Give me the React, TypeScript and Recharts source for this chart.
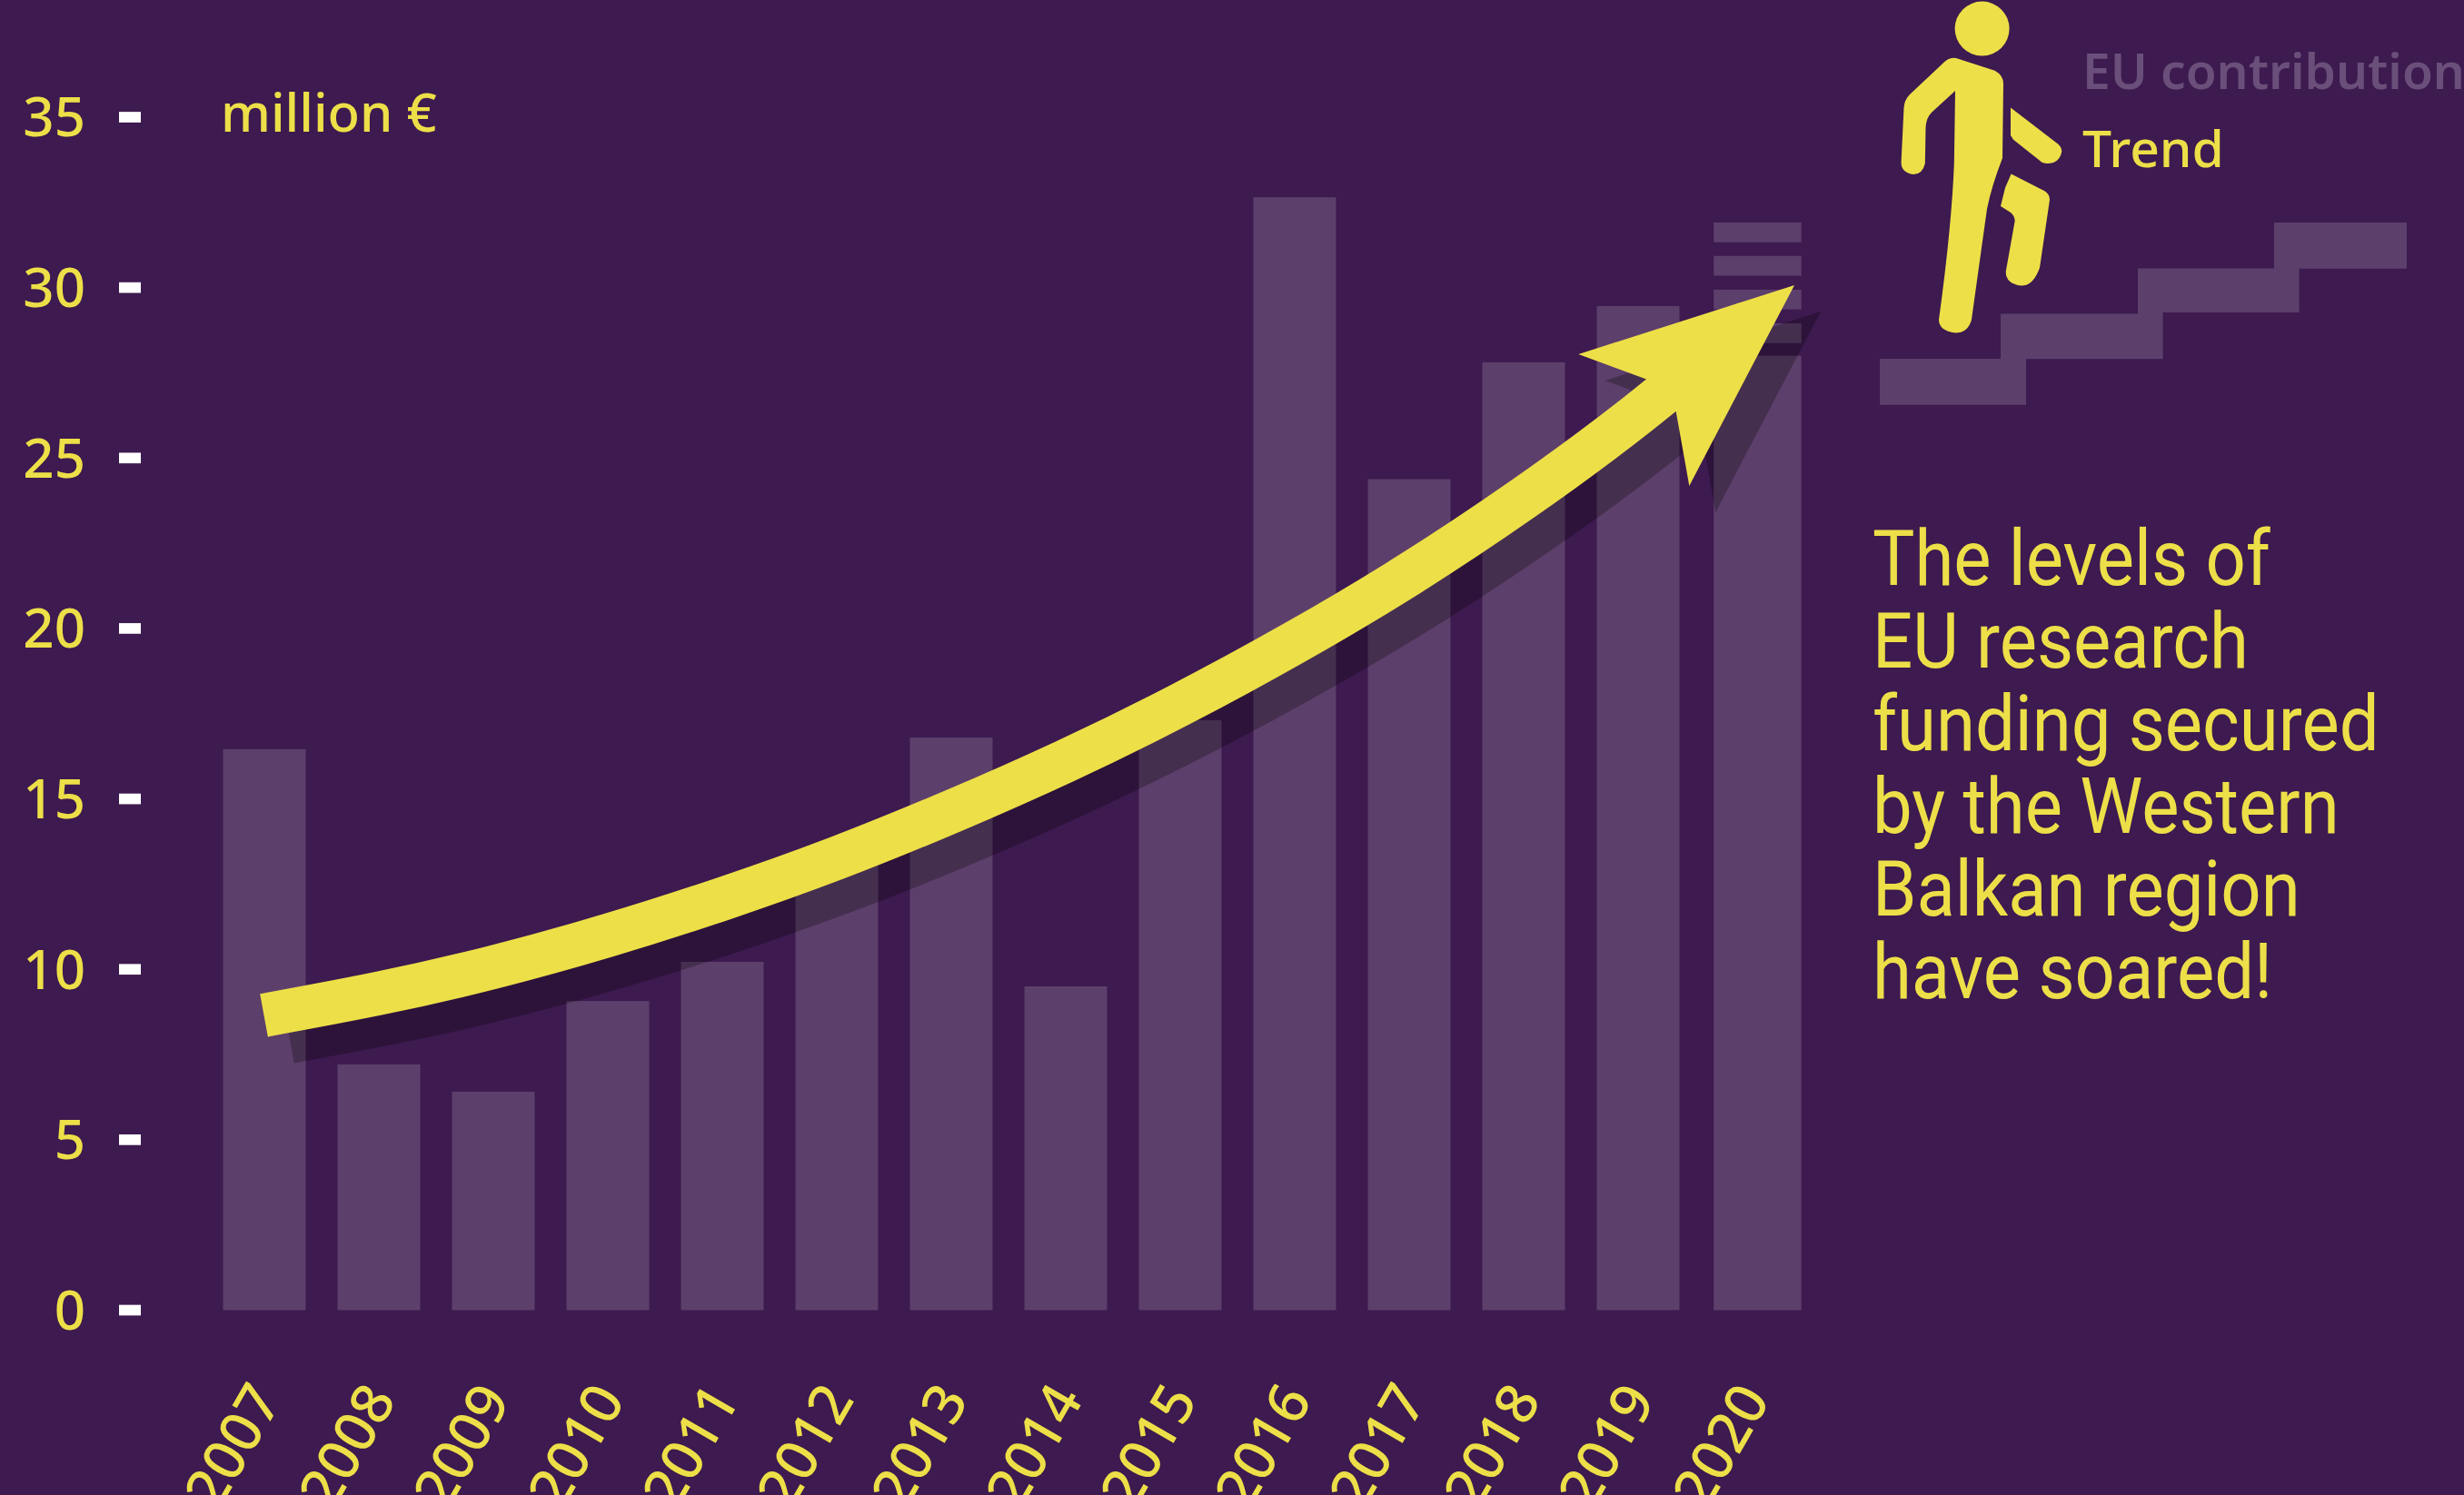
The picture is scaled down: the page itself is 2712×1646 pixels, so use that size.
import { ComposedChart, Bar, Line, XAxis, YAxis } from "recharts"

const YEARS = ["2007", "2008", "2009", "2010", "2011", "2012", "2013", "2014", "2015", "2016", "2017", "2018", "2019", "2020"]
const EU_CONTRIBUTION = [16.46, 7.21, 6.41, 9.07, 10.22, 13.2, 16.8, 9.5, 17.31, 32.65, 24.38, 27.81, 29.46, 28.0]
const TREND = [8.65, 9.29, 10.06, 10.99, 12.06, 13.26, 14.62, 16.11, 17.76, 19.58, 21.58, 23.81, 26.29, 29.06]
// the broken top of the 2020 bar: gap, stripe, gap, stripe ...
const TOP_2020 = [0.37, 0.58, 0.41, 0.58, 0.41, 0.58, 0.4, 0.58]
const Y_TICKS = [0, 5, 10, 15, 20, 25, 30, 35]
const TEXT_LINES = ["The levels of", "EU research", "funding secured", "by the Western", "Balkan region", "have soared!"]

const BG = "#3d1a4f"
const BAR = "#5d3f6b"
const YELLOW = "#eddf48"
const FONT = "'Noto Sans', sans-serif"

const W = 2712
const H = 1646
const PLOT_PAD = { left: 72.5, right: 0 }

const chartData = YEARS.map((year, i) => {
  const row: Record<string, any> = { year, eu: EU_CONTRIBUTION[i], trend: TREND[i] }
  TOP_2020.forEach((v, k) => {
    row["top" + k] = year === "2020" ? v : 0
  })
  return row
})

// last bar is a little wider than the others
function BarShape(props: any) {
  const { x, y, width, height, fill, payload } = props
  if (!height) return null
  const last = payload.year === "2020"
  return <rect x={last ? x + 2.7 : x} y={y} width={last ? width + 5.5 : width} height={height} fill={fill} />
}

function arrowHead(color: string) {
  return (props: any) => {
    const { cx, cy, index } = props
    if (index !== YEARS.length - 1) return <g key={index} />
    const pts = [[46.5, -38], [-191.2, 38], [-114.5, 66.3], [-83.8, 101.3], [-69.2, 183]]
    return <polygon key={index} points={pts.map((p) => `${cx + p[0]},${cy + p[1]}`).join(" ")} fill={color} />
  }
}

function YearTick(props: any) {
  const { x, y, payload } = props
  return (
    <text
      x={x - 18}
      y={y}
      dy="0.71em"
      transform={`rotate(-60, ${x - 18}, ${y})`}
      textAnchor="end"
      fill={YELLOW}
      fontSize={63}
      fontWeight={500}
      fontFamily={FONT}
    >
      {payload.value}
    </text>
  )
}

// the arrow sits in its own layer so the shadow can be faded as one piece
function TrendLayer({ color, style }: { color: string; style?: any }) {
  return (
    <div style={{ position: "absolute", left: 0, top: 0, ...style }}>
      <ComposedChart width={W} height={H} data={chartData} margin={{ top: 129, right: 720.5, bottom: 203.5, left: 155 }}>
        <XAxis dataKey="year" scale="band" hide padding={PLOT_PAD} />
        <YAxis hide domain={[0, 35]} />
        <Line
          dataKey="trend"
          type="natural"
          stroke={color}
          strokeWidth={48}
          dot={arrowHead(color)}
          activeDot={false}
          isAnimationActive={false}
        />
      </ComposedChart>
    </div>
  )
}

function Stairs() {
  return (
    <path
      d="M2069 395H2202V345.6H2353V295.4H2503V245H2649V295.8H2530.6V344H2380.6V395.3H2230V445.8H2069Z"
      fill={BAR}
    />
  )
}

function Walker() {
  return (
    <g fill={YELLOW}>
      <circle cx={2181.6} cy={31.6} r={30} />
      <path d="M2153 64L2195.6 77.7Q2205 83 2205 92L2204 174Q2192 205 2187 230Q2180 280 2170 352Q2166 366.6 2152 366.6Q2134 364 2134 352Q2148 250 2150.8 180L2152 100L2125.8 124Q2120 130 2119.5 140L2118.8 180Q2116 192 2106 192Q2092 190 2092.6 178L2095.5 118.6Q2096 110 2102 104L2137.4 70.8Q2145 62 2153 64Z" />
      <path d="M2213 118.6L2265.4 158.8Q2270 163 2269 168Q2266 180 2253.7 180Q2248 180 2245 176.8L2216 153.8L2213 149Z" />
      <path d="M2213.6 191.4L2250.8 210.5Q2256 214 2256 220L2245 294.7Q2238 314.6 2224.7 314.6Q2207 312 2207.8 298.5L2217.7 243Q2217 237 2213 234L2202 227L2207 206.7Z" />
    </g>
  )
}

export default function App() {
  return (
    <div style={{ position: "absolute", left: 0, top: 0, width: W, height: H, background: BG, overflow: "hidden", fontFamily: FONT }}>
      <ComposedChart
        width={W}
        height={H}
        data={chartData}
        margin={{ top: 129, right: 720.5, bottom: 0, left: 0 }}
        barSize={91}
      >
        <XAxis
          dataKey="year"
          interval={0}
          height={203.5}
          padding={PLOT_PAD}
          axisLine={false}
          tickLine={false}
          tickMargin={70}
          tick={YearTick}
        />
        <YAxis
          width={155}
          domain={[0, 35]}
          ticks={Y_TICKS}
          axisLine={false}
          tickSize={24}
          tickMargin={37}
          tickLine={{ stroke: "#ffffff", strokeWidth: 11.7 }}
          tick={{ fill: YELLOW, fontSize: 60, fontWeight: 500, fontFamily: FONT }}
        />

        <Bar dataKey="eu" stackId="eu" fill={BAR} shape={BarShape} isAnimationActive={false} />
        {TOP_2020.map((_, k) => (
          <Bar
            key={k}
            dataKey={"top" + k}
            stackId="eu"
            fill={k % 2 === 0 ? "none" : BAR}
            shape={BarShape}
            isAnimationActive={false}
          />
        ))}
      </ComposedChart>

      <TrendLayer color="#000000" style={{ transform: "translate(29px, 29px)", opacity: 0.25 }} />
      <TrendLayer color={YELLOW} />

      <svg width={W} height={H} style={{ position: "absolute", left: 0, top: 0 }}>
        <Stairs />
        <Walker />
        <text x={243} y={145} fontSize={58} fontWeight={500} fill={YELLOW}>million €</text>
        <text x={2292} y={97.6} fontSize={55} fontWeight={600} fill="#6a4f7a">EU contribution</text>
        <text x={2292} y={184} fontSize={57} fontWeight={500} fill={YELLOW}>Trend</text>
        {TEXT_LINES.map((line, i) => (
          <text
            key={line}
            transform={`translate(2061, ${644 + i * 91}) scale(0.905, 1)`}
            fontSize={86}
            fontFamily="Roboto, sans-serif"
            fill={YELLOW}
          >
            {line}
          </text>
        ))}
      </svg>
    </div>
  )
}
